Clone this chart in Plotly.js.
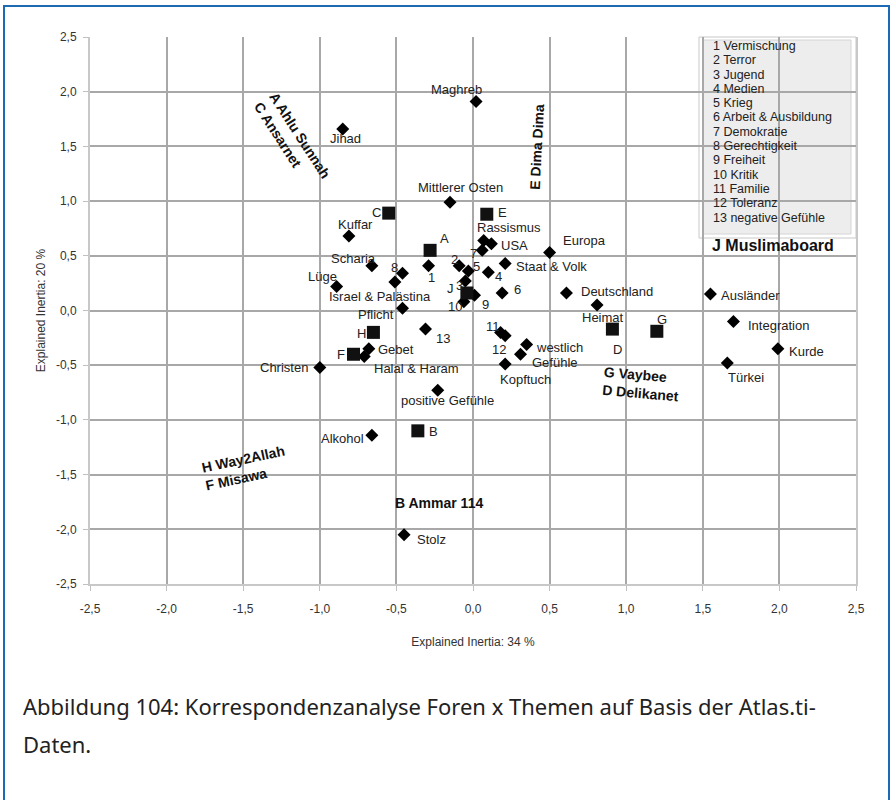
<!DOCTYPE html>
<html>
<head>
<meta charset="utf-8">
<script src="https://cdn.plot.ly/plotly-3.0.1.min.js"></script>
<style>
  html, body { margin: 0; padding: 0; background: #ffffff; }
  #wrap { position: relative; width: 894px; height: 800px; overflow: hidden; }
  #chart { position: absolute; left: 0; top: 0; width: 894px; height: 800px; }
  #frame { position: absolute; left: 3px; top: 5px; width: 883px; height: 820px; border: 2px solid #1c6ab4; pointer-events: none; }
</style>
</head>
<body>
<div id="wrap">
  <div id="chart"></div>
  <div id="frame"></div>
</div>
<script>
// ---- Data: themes (diamonds) ----
const themeNames = ["Maghreb","Jihad","Mittlerer Osten","Kuffar","Rassismus","USA","7","Europa","Scharia","8","1","2","5","4","Staat & Volk","Israel & Palästina","Lüge","3","9","10","6","Pflicht","Deutschland","Heimat","Ausländer","Integration","Kurde","Türkei","13","11","12","westlich","Gefühle","Kopftuch","Gebet","Halal & Haram","Christen","positive Gefühle","Alkohol","Stolz"];
const themeX = [0.02,-0.85,-0.15,-0.81,0.07,0.12,0.06,0.50,-0.66,-0.46,-0.29,-0.09,-0.03,0.10,0.21,-0.51,-0.89,-0.05,0.01,-0.06,0.19,-0.46,0.61,0.81,1.55,1.70,1.99,1.66,-0.31,0.18,0.21,0.35,0.31,0.21,-0.68,-0.71,-1.00,-0.23,-0.66,-0.45];
const themeY = [1.91,1.66,0.99,0.68,0.64,0.61,0.55,0.53,0.41,0.34,0.41,0.41,0.36,0.35,0.43,0.26,0.22,0.27,0.14,0.08,0.16,0.02,0.16,0.05,0.15,-0.10,-0.35,-0.48,-0.17,-0.20,-0.23,-0.31,-0.40,-0.49,-0.35,-0.42,-0.52,-0.73,-1.14,-2.05];

// ---- Data: forums (squares) ----
const forumNames = ["A","B","C","D","E","F","G","H","J"];
const forumX = [-0.28,-0.36,-0.55,0.91,0.09,-0.78,1.20,-0.65,-0.04];
const forumY = [0.55,-1.10,0.89,-0.17,0.88,-0.40,-0.19,-0.20,0.16];

// ---- Forum group labels ----
const groupTexts = ["A Ahlu Sunnah<br>C Ansarnet","E Dima Dima","J Muslimaboard","G Vaybee<br>D Delikanet","H Way2Allah<br>F Misawa","B Ammar 114"];
const groupX = [-1.18,0.42,1.96,1.10,-1.49,-0.22];
const groupY = [1.56,1.50,0.59,-0.67,-1.44,-1.76];

// ---- Legend of numbered themes ----
const legendItems = ["1 Vermischung","2 Terror","3 Jugend","4 Medien","5 Krieg","6 Arbeit & Ausbildung","7 Demokratie","8 Gerechtigkeit","9 Freiheit","10 Kritik","11 Familie","12 Toleranz","13 negative Gefühle"];

// ---- Axes ----
const tickVals = [-2.5,-2.0,-1.5,-1.0,-0.5,0.0,0.5,1.0,1.5,2.0,2.5];
const tickText = ["-2,5","-2,0","-1,5","-1,0","-0,5","0,0","0,5","1,0","1,5","2,0","2,5"];
const xTitle = "Explained Inertia: 34 %";
const yTitle = "Explained Inertia: 20 %";
const caption1 = "Abbildung 104: Korrespondenzanalyse Foren x Themen auf Basis der Atlas.ti-";
const caption2 = "Daten.";

// ---- Styling: label offsets in pixels [dx, dy] (dy downwards) ----
const themeLabelOffset = [[-20,-12],[3,10],[10,-15],[7,-12],[25,-13],[23,2],[-9,3],[35,-12],[-18,-7],[-8,-6],[3,12],[-5,-6],[8,-5],[10,4],[46,3],[-15,14],[-14,-10],[-6,5],[11,9],[-9,5],[15,-4],[-27,6],[51,-2],[6,12],[40,1],[45,4],[29,3],[19,14],[17,9],[-8,-6],[-6,14],[33,3],[35,8],[20,15],[27,1],[52,12],[-36,0],[10,10],[-29,3],[27,5]];
const forumLabelOffset = [[14,-12],[16,1],[-12,-1],[5,20],[16,-2],[-13,0],[5,-12],[-12,1],[-16,-5]];
const groupAngle = [57,-87,0,5,-12,0];
const groupSize = [14,14,16,14,14,14];

const FONT = "'Liberation Sans', Arial, sans-serif";
const CAPFONT = "'Noto Sans', sans-serif";
const plotL = 90, plotR = 856, plotT = 37, plotB = 584;
const px2paperX = px => (px - plotL) / (plotR - plotL);
const px2paperY = py => (plotB - py) / (plotB - plotT);

const annotations = [];
themeNames.forEach((t, i) => {
  annotations.push({x: themeX[i], y: themeY[i], xref: "x", yref: "y", text: t, showarrow: false,
    xanchor: "center", yanchor: "middle", xshift: themeLabelOffset[i][0], yshift: -themeLabelOffset[i][1],
    font: {family: FONT, size: 13, color: "#222"}});
});
forumNames.forEach((t, i) => {
  annotations.push({x: forumX[i], y: forumY[i], xref: "x", yref: "y", text: t, showarrow: false,
    xanchor: "center", yanchor: "middle", xshift: forumLabelOffset[i][0], yshift: -forumLabelOffset[i][1],
    font: {family: FONT, size: 13, color: "#222"}});
});
groupTexts.forEach((t, i) => {
  annotations.push({x: groupX[i], y: groupY[i], xref: "x", yref: "y", text: "<b>" + t + "</b>", showarrow: false,
    textangle: groupAngle[i], align: "left", xanchor: "center", yanchor: "middle",
    font: {family: FONT, size: groupSize[i], color: "#111"}});
});
legendItems.forEach((t, i) => {
  annotations.push({x: px2paperX(711), y: px2paperY(46 + i * 14.3), xref: "paper", yref: "paper", text: t, showarrow: false,
    xanchor: "left", yanchor: "middle",
    font: {family: FONT, size: 12.5, color: "#222"}});
});
annotations.push({x: px2paperX(21), y: px2paperY(706), xref: "paper", yref: "paper", text: caption1, showarrow: false,
  xanchor: "left", yanchor: "middle", font: {family: CAPFONT, size: 22, color: "#222"}});
annotations.push({x: px2paperX(21), y: px2paperY(744), xref: "paper", yref: "paper", text: caption2, showarrow: false,
  xanchor: "left", yanchor: "middle", font: {family: CAPFONT, size: 22, color: "#222"}});

const traces = [
  {type: "scatter", mode: "markers", x: themeX, y: themeY, text: themeNames, hoverinfo: "text",
   marker: {symbol: "diamond", size: 10, color: "#000"}},
  {type: "scatter", mode: "markers", x: forumX, y: forumY, text: forumNames, hoverinfo: "text",
   marker: {symbol: "square", size: 13, color: "#111"}}
];

const axisCommon = {
  range: [-2.5, 2.5], tickvals: tickVals, ticktext: tickText, zeroline: false,
  showgrid: true, gridcolor: "#a8a8a8", gridwidth: 2,
  showline: true, linecolor: "#c8c8c8", linewidth: 2,
  ticks: "outside", ticklen: 5, tickcolor: "#c0c0c0", tickwidth: 1,
  tickfont: {family: FONT, size: 12, color: "#333"}, fixedrange: true
};

const layout = {
  width: 894, height: 800,
  margin: {l: plotL, r: 894 - plotR, t: plotT, b: 800 - plotB},
  paper_bgcolor: "#ffffff", plot_bgcolor: "#ffffff",
  showlegend: false,
  font: {family: FONT},
  xaxis: Object.assign({}, axisCommon, {mirror: false, ticklabelstandoff: 8,
    title: {text: xTitle, font: {family: FONT, size: 12, color: "#333"}, standoff: 22}}),
  yaxis: Object.assign({}, axisCommon, {mirror: true, ticklabelstandoff: 4,
    title: {text: yTitle, font: {family: FONT, size: 12, color: "#333"}, standoff: 8}}),
  shapes: [
    {type: "rect", xref: "paper", yref: "paper", layer: "below",
     x0: px2paperX(699), x1: px2paperX(856), y0: px2paperY(238), y1: px2paperY(37),
     line: {color: "#c8c8c8", width: 1}, fillcolor: "rgba(0,0,0,0)"},
    {type: "rect", xref: "paper", yref: "paper", layer: "below",
     x0: px2paperX(703), x1: px2paperX(851), y0: px2paperY(234), y1: px2paperY(40),
     line: {color: "#d4d4d4", width: 1}, fillcolor: "#ededed"}
  ],
  annotations: annotations
};

Plotly.newPlot("chart", traces, layout, {staticPlot: true, displayModeBar: false});
</script>
</body>
</html>
